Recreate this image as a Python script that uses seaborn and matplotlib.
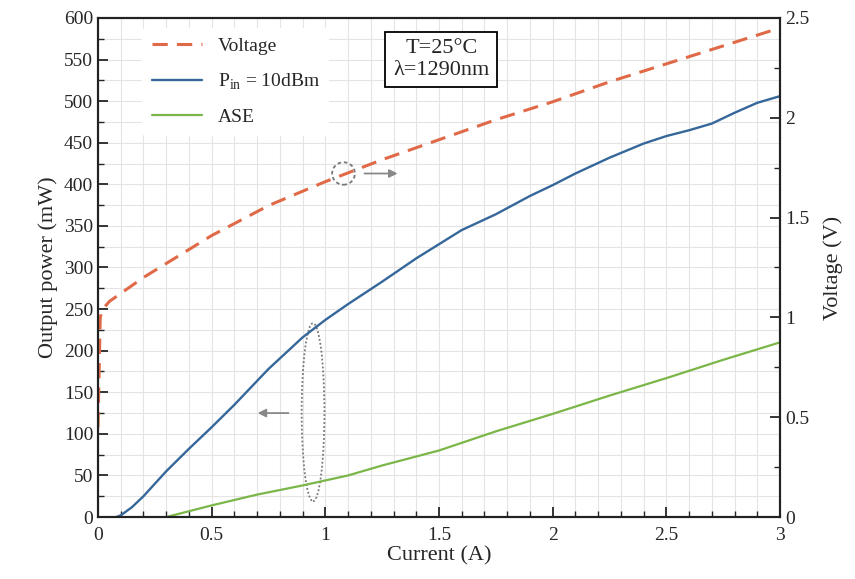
import numpy as np
import pandas as pd
import seaborn as sns
import matplotlib.pyplot as plt
from matplotlib.patches import Ellipse
from matplotlib.ticker import MultipleLocator

sns.set_theme(style="ticks")
plt.rcParams['font.family'] = ['Liberation Serif', 'DejaVu Serif']
plt.rcParams['mathtext.fontset'] = 'custom'
plt.rcParams['mathtext.rm'] = 'Liberation Serif'

# data
current_v = [0.0, 0.0, 0.01, 0.02, 0.05, 0.1, 0.2, 0.3, 0.5, 0.75, 1.0, 1.25, 1.5, 1.75, 2.0, 2.25, 2.5, 2.75, 3.0]
voltage = [0.0, 0.9, 1.0, 1.04, 1.08, 1.12, 1.2, 1.27, 1.41, 1.56, 1.68, 1.79, 1.89, 1.99, 2.08, 2.18, 2.27, 2.36, 2.45]

current_p = [0.08, 0.1, 0.15, 0.2, 0.3, 0.4, 0.5, 0.6, 0.75, 0.9, 1.0, 1.1, 1.25, 1.4, 1.5, 1.6, 1.75, 1.9, 2.0, 2.1, 2.25, 2.4, 2.5, 2.6, 2.7, 2.8, 2.9, 3.0]
power_pin = [0, 2, 12, 25, 55, 82, 108, 135, 178, 216, 237, 256, 283, 311, 328, 345, 364, 386, 399, 413, 432, 449, 458, 465, 473, 486, 498, 506]

current_a = [0.3, 0.5, 0.7, 0.9, 1.1, 1.25, 1.5, 1.75, 2.0, 2.25, 2.5, 2.75, 3.0]
power_ase = [0, 14, 27, 38, 50, 62, 80, 103, 124, 146, 167, 189, 210]

df_v = pd.DataFrame({"Current": current_v, "Voltage": voltage})
df_p = pd.DataFrame({"Current": current_p, "Power": power_pin})
df_a = pd.DataFrame({"Current": current_a, "Power": power_ase})

fig = plt.figure(figsize=(8.55, 5.79), dpi=100)
ax = fig.add_axes([0.1146, 0.107, 0.7977, 0.862])
ax2 = ax.twinx()

c_v = "#e06a48"
c_p = "#36679a"
c_a = "#7ab648"

sns.lineplot(data=df_p, x="Current", y="Power", ax=ax, color=c_p, lw=1.7, label=r"P$_{\rm in}$ = 10dBm")
sns.lineplot(data=df_a, x="Current", y="Power", ax=ax, color=c_a, lw=1.6, label="ASE")
sns.lineplot(data=df_v, x="Current", y="Voltage", ax=ax2, color=c_v, lw=2.2, dashes=(5, 3), legend=False)
ax.plot([], [], color=c_v, lw=2.2, dashes=(5, 3), label="Voltage")

ax.set_xlim(0, 3)
ax.set_ylim(0, 600)
ax2.set_ylim(0, 2.5)

ax.xaxis.set_major_locator(MultipleLocator(0.5))
ax.xaxis.set_minor_locator(MultipleLocator(0.1))
ax.yaxis.set_major_locator(MultipleLocator(50))
ax.yaxis.set_minor_locator(MultipleLocator(25))
ax2.yaxis.set_major_locator(MultipleLocator(0.5))
ax2.yaxis.set_minor_locator(MultipleLocator(0.25))
ax.xaxis.set_major_formatter(plt.FuncFormatter(lambda v, p: f"{v:g}"))
ax2.yaxis.set_major_formatter(plt.FuncFormatter(lambda v, p: f"{v:g}"))

ax.grid(which="both", color="#e4e4e4", lw=0.8)
ax.set_axisbelow(True)
for a in (ax, ax2):
    for s in a.spines.values():
        s.set_linewidth(1.5)
        s.set_color("#222222")
ax.tick_params(axis="both", which="major", direction="in", length=7, width=1.3, labelsize=14, top=False, right=False)
ax.tick_params(axis="x", which="major", pad=7)
ax.tick_params(axis="both", which="minor", direction="in", length=4, width=1.0, top=False, right=False)
ax2.tick_params(axis="y", which="major", direction="in", length=7, width=1.3, labelsize=14)
ax2.tick_params(axis="y", which="minor", direction="in", length=4, width=1.0)

ax.set_xlabel("Current (A)", fontsize=16, labelpad=2)
ax.set_ylabel("Output power (mW)", fontsize=16)
ax2.set_ylabel("Voltage (V)", fontsize=16, labelpad=10)

h, l = ax.get_legend_handles_labels()
order = [2, 0, 1]
leg = ax.legend([h[i] for i in order], [l[i] for i in order], loc="upper left",
                bbox_to_anchor=(0.05, 1.0), frameon=True, fontsize=14,
                handlelength=2.6, labelspacing=0.85, borderpad=0.5)
leg.get_frame().set_edgecolor("none")
leg.get_frame().set_facecolor("white")
leg.get_frame().set_alpha(1)

ax.text(1.51, 550, "T=25°C\nλ=1290nm", fontsize=16, ha="center", va="center",
        linespacing=1.15, bbox=dict(boxstyle="square,pad=0.35", fc="white", ec="black", lw=1.3))

ax.add_patch(Ellipse((1.08, 413), 0.1, 27, fill=False, ec="#777777", ls=(0, (2, 1.5)), lw=1.3))
ax.annotate("", xy=(1.33, 413), xytext=(1.16, 413),
            arrowprops=dict(arrowstyle="-|>", color="#888888", lw=1.3))
ax.add_patch(Ellipse((0.946, 126), 0.1, 214, fill=False, ec="#777777", ls=(0, (1, 1.2)), lw=1.3))
ax.annotate("", xy=(0.69, 125), xytext=(0.85, 125),
            arrowprops=dict(arrowstyle="-|>", color="#888888", lw=1.3))

fig.savefig("out.png", dpi=100)
